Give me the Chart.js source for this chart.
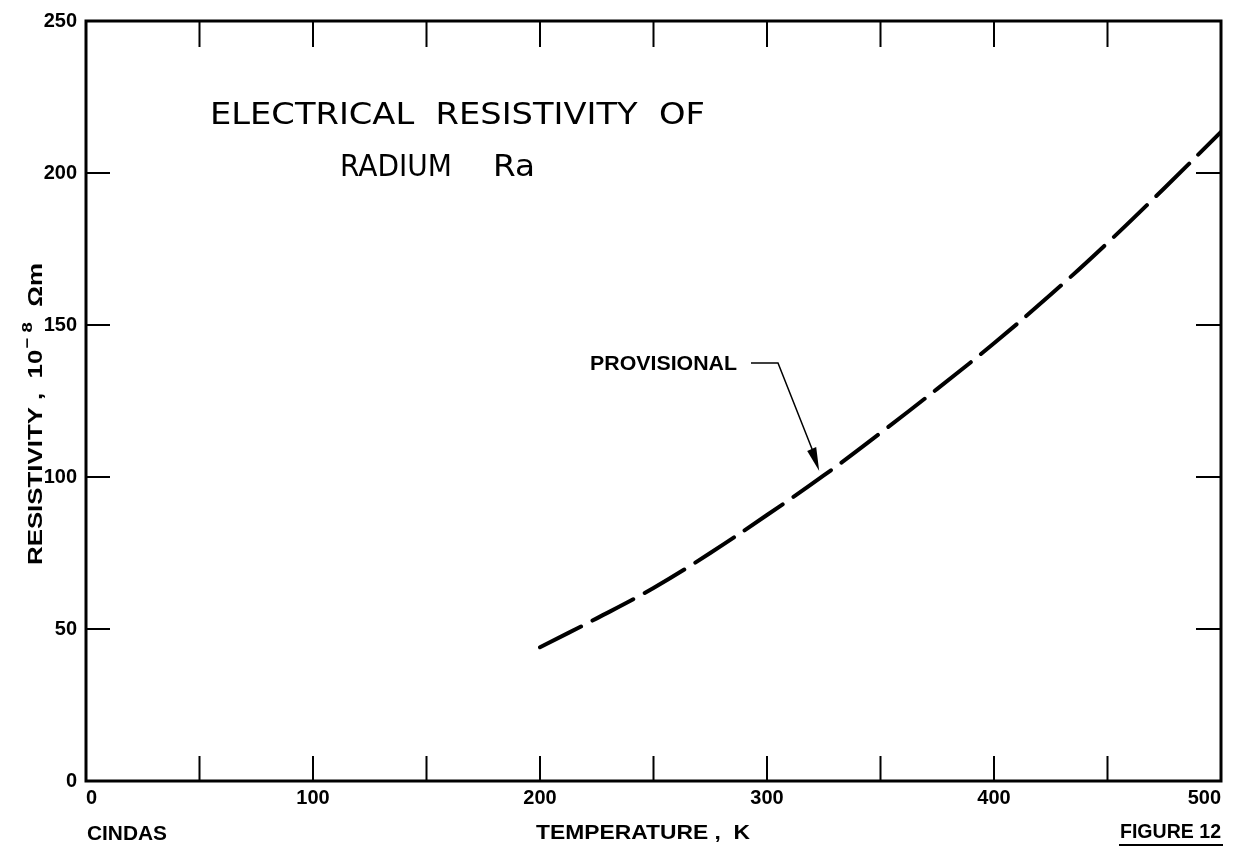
<!DOCTYPE html>
<html>
<head>
<meta charset="utf-8">
<script src="https://cdn.jsdelivr.net/npm/chart.js@4.4.1/dist/chart.umd.min.js"></script>
<style>
  body { margin: 0; background: #fff; }
  canvas { display: block; }
</style>
</head>
<body>
<canvas id="grafico" width="1235" height="846"></canvas>
<script>
// Datos
const temperaturas = [200, 225, 250, 275, 300, 325, 350, 375, 400, 425, 450, 475, 500];
const resistividad = [44, 53.5, 63.5, 75, 87.5, 100.5, 114.5, 129, 144, 160, 177, 195, 213.5];
const ticksX = [0, 50, 100, 150, 200, 250, 300, 350, 400, 450, 500];
const ticksY = [0, 50, 100, 150, 200, 250];

const fuente = '"Liberation Sans", Arial, sans-serif';
const fuenteTitulo = '"DejaVu Sans", sans-serif';

// Escribe un texto estirado en horizontal para que ocupe un ancho dado
function textoAncho(ctx, texto, x, y, ancho) {
    const medido = ctx.measureText(texto).width;
    ctx.save();
    ctx.translate(x, y);
    ctx.scale(ancho / medido, 1);
    ctx.fillText(texto, 0, 0);
    ctx.restore();
}

// Marco y marcas hacia dentro en los cuatro lados
const marcasInternas = {
    id: 'marcasInternas',
    afterDraw(chart) {
        const { ctx, chartArea: a, scales } = chart;
        ctx.save();
        ctx.strokeStyle = '#000';
        ctx.lineWidth = 3;
        ctx.strokeRect(a.left, a.top, a.right - a.left, a.bottom - a.top);
        ctx.lineWidth = 2;
        ctx.beginPath();
        ticksX.slice(1, -1).forEach(v => {
            const px = scales.x.getPixelForValue(v);
            ctx.moveTo(px, a.bottom); ctx.lineTo(px, a.bottom - 25);
            ctx.moveTo(px, a.top); ctx.lineTo(px, a.top + 26);
        });
        ticksY.slice(1, -1).forEach(v => {
            const py = scales.y.getPixelForValue(v);
            ctx.moveTo(a.left, py); ctx.lineTo(a.left + 24, py);
            ctx.moveTo(a.right, py); ctx.lineTo(a.right - 25, py);
        });
        ctx.stroke();
        ctx.restore();
    }
};

// Textos de la figura
const textos = {
    id: 'textos',
    afterDraw(chart) {
        const { ctx, scales } = chart;
        ctx.save();
        ctx.fillStyle = '#000';
        ctx.textBaseline = 'alphabetic';
        ctx.textAlign = 'left';

        ctx.font = '30px ' + fuenteTitulo;
        textoAncho(ctx, 'ELECTRICAL  RESISTIVITY  OF', 210, 124, 495);
        textoAncho(ctx, 'RADIUM', 340, 176, 112);
        textoAncho(ctx, 'Ra', 493, 176, 42);

        ctx.font = 'bold 20px ' + fuente;
        textoAncho(ctx, 'PROVISIONAL', 590, 370, 147);

        // flecha de la anotación
        const tx = scales.x.getPixelForValue(323);
        const ty = scales.y.getPixelForValue(102);
        ctx.strokeStyle = '#000';
        ctx.lineWidth = 1.5;
        ctx.beginPath();
        ctx.moveTo(751, 363);
        ctx.lineTo(778, 363);
        ctx.lineTo(tx - 4, ty - 14);
        ctx.stroke();
        ctx.beginPath();
        ctx.moveTo(tx, ty);
        ctx.lineTo(tx - 12, ty - 20);
        ctx.lineTo(tx - 3, ty - 24);
        ctx.closePath();
        ctx.fill();

        ctx.font = 'bold 20px ' + fuente;
        textoAncho(ctx, 'TEMPERATURE ,  K', 536, 839, 214);
        textoAncho(ctx, 'CINDAS', 87, 840, 80);
        textoAncho(ctx, 'FIGURE 12', 1120, 838, 101);
        ctx.lineWidth = 2;
        ctx.beginPath();
        ctx.moveTo(1119, 845);
        ctx.lineTo(1223, 845);
        ctx.stroke();

        // título del eje Y, con el exponente elevado
        const parte1 = 'RESISTIVITY ,  10';
        const exp = '\u2212 8';
        const parte3 = '  \u03A9m';
        ctx.font = 'bold 21px ' + fuente;
        const w1 = ctx.measureText(parte1).width;
        const w3 = ctx.measureText(parte3).width;
        ctx.font = 'bold 15px ' + fuente;
        const wExp = ctx.measureText(exp).width;
        const total = w1 + wExp + w3 + 2;
        ctx.translate(42, 565);
        ctx.rotate(-Math.PI / 2);
        ctx.scale(302 / total, 1);
        ctx.fillText(exp, w1 + 1, -10);
        ctx.font = 'bold 21px ' + fuente;
        ctx.fillText(parte1, 0, 0);
        ctx.fillText(parte3, w1 + wExp + 2, 0);
        ctx.restore();
    }
};

new Chart(document.getElementById('grafico'), {
    type: 'line',
    data: {
        datasets: [{
            label: 'Provisional',
            data: temperaturas.map((t, i) => ({ x: t, y: resistividad[i] })),
            borderColor: '#000',
            borderWidth: 4,
            borderDash: [46, 13],
            borderCapStyle: 'round',
            pointRadius: 0,
            tension: 0.4,
            fill: false
        }]
    },
    options: {
        responsive: false,
        animation: false,
        devicePixelRatio: 1,
        layout: { padding: { top: 21, right: 14, left: 0, bottom: 0 } },
        plugins: { legend: { display: false }, tooltip: { enabled: false } },
        scales: {
            x: {
                type: 'linear',
                min: 0,
                max: 500,
                afterBuildTicks: s => { s.ticks = ticksX.map(v => ({ value: v })); },
                afterFit: s => { s.height = 65; },
                grid: { display: false, drawTicks: false },
                border: { display: false },
                ticks: {
                    align: 'inner',
                    padding: 5,
                    color: '#000',
                    font: { family: fuente, size: 20, weight: 'bold' },
                    callback: v => (v % 100 === 0 ? v : '')
                }
            },
            y: {
                min: 0,
                max: 250,
                afterBuildTicks: s => { s.ticks = ticksY.map(v => ({ value: v })); },
                afterFit: s => { s.width = 86; },
                grid: { display: false, drawTicks: false },
                border: { display: false },
                ticks: {
                    padding: 9,
                    color: '#000',
                    font: { family: fuente, size: 20, weight: 'bold' }
                }
            }
        }
    },
    plugins: [marcasInternas, textos]
});
</script>
</body>
</html>
